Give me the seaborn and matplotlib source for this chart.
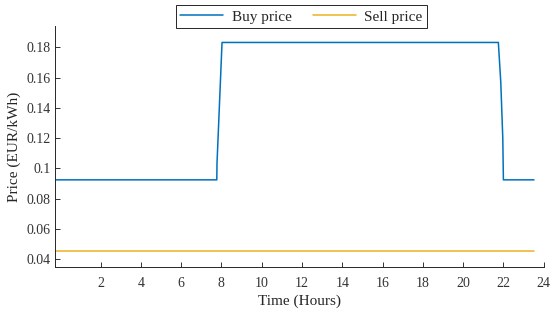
import numpy as np
import pandas as pd
import matplotlib
matplotlib.use("Agg")
import matplotlib.pyplot as plt
import seaborn as sns

# values
buy_time = [-0.25, 7.77, 7.78, 8.03, 21.75, 21.87, 21.97, 22.0, 23.52]
buy_price = [0.0925, 0.0925, 0.1034, 0.1833, 0.1833, 0.157, 0.12, 0.0925, 0.0925]
sell_time = [-0.25, 23.52]
sell_price = [0.0457, 0.0457]

x_ticks = list(range(2, 25, 2))
y_ticks = [0.04, 0.06, 0.08, 0.1, 0.12, 0.14, 0.16, 0.18]

df = pd.concat([
    pd.DataFrame({"Time": buy_time, "Price": buy_price, "Series": "Buy price"}),
    pd.DataFrame({"Time": sell_time, "Price": sell_price, "Series": "Sell price"}),
], ignore_index=True)

sns.set_style("ticks")
plt.rcParams["font.family"] = ["Liberation Serif", "DejaVu Serif"]
plt.rcParams["xtick.direction"] = "in"
plt.rcParams["ytick.direction"] = "in"

fig = plt.figure(figsize=(5.5, 3.11), dpi=100)
ax = fig.add_axes([0.1005, 0.1405, 0.888, 0.7765])

sns.lineplot(data=df, x="Time", y="Price", hue="Series",
             palette=["#0072BD", "#EDB120"], estimator=None, sort=False,
             linewidth=1.1, ax=ax, legend=True)

ax.set_xlim(-0.25, 24)
ax.set_ylim(0.0347, 0.1943)
ax.set_xticks(x_ticks)
ax.set_yticks(y_ticks)
ax.set_yticklabels([f"{v:g}" for v in y_ticks])
ax.tick_params(labelsize=10, length=3.5, width=0.7, colors="#333333")
ax.tick_params(axis="x", pad=7)
for s in ["top", "right"]:
    ax.spines[s].set_visible(False)
for s in ["left", "bottom"]:
    ax.spines[s].set_color("#262626")
    ax.spines[s].set_linewidth(0.7)

ax.set_xlabel("Time (Hours)", fontsize=11, color="#262626", labelpad=3)
ax.set_ylabel("Price (EUR/kWh)", fontsize=11, color="#262626", labelpad=4)

handles, labels = ax.get_legend_handles_labels()
ax.legend(handles, labels, ncol=2, loc="upper center",
          bbox_to_anchor=(0.548, 0.984), bbox_transform=fig.transFigure,
          fontsize=11, frameon=True, fancybox=False, edgecolor="#262626",
          framealpha=1, handlelength=2.8, columnspacing=1.4,
          borderpad=0.32, borderaxespad=0, handletextpad=0.55)
ax.get_legend().get_frame().set_linewidth(0.7)

fig.savefig("out.png", dpi=100)
